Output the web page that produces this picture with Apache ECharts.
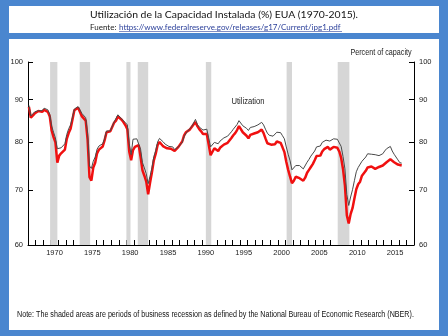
<!DOCTYPE html>
<html><head><meta charset="utf-8">
<script src="https://cdn.jsdelivr.net/npm/echarts@6/dist/echarts.min.js"></script>
<style>html,body{margin:0;padding:0;background:#4a86cf}#c{width:448px;height:336px}</style>
</head><body><div id="c"></div>
<script>
// Quarterly capacity utilization, 1967Q1 onward (percent of capacity)
const startYear = 1967;
const totalIndustry = [
 88.6,86.0,86.2,87.0, 87.1,87.3,87.1,87.3, 87.9,87.8,87.5,86.4, 83.6,82.2,80.9,78.5,
 78.8,78.7,78.6,79.6, 81.7,83.0,83.9,85.7, 87.7,88.1,88.3,88.2, 86.6,86.2,85.6,81.9,
 74.8,74.3,75.8,76.7, 78.4,79.1,79.2,79.6, 80.8,82.5,82.7,82.5, 82.4,84.6,85.0,86.3,
 86.2,85.3,84.9,84.4, 83.9,79.6,77.2,80.6, 80.8,80.7,80.9,78.4, 75.5,74.4,73.2,71.2,
 72.7,74.4,76.8,78.1, 80.0,80.8,80.7,80.0, 79.5,79.3,79.0,79.0, 78.9,78.3,78.5,78.9,
 79.1,79.9,81.2,82.0, 82.5,82.9,83.5,83.9, 85.2,84.0,83.4,83.1, 82.7,82.8,82.9,80.9,
 78.9,78.8,79.9,79.8, 79.6,80.2,80.2,80.9, 81.2,81.3,81.4,82.3, 82.9,83.3,84.0,84.9,
 84.7,83.7,83.6,83.1, 82.6,83.3,83.5,83.5, 83.6,83.9,84.3,84.5, 83.9,82.9,82.0,81.5,
 81.4,81.3,81.6,82.2, 82.0,82.1,81.4,80.7, 78.9,77.3,75.9,74.0, 74.2,74.9,75.2,74.9,
 74.6,74.2,74.6,75.6, 76.2,76.9,77.3,78.0, 78.9,79.3,79.1,79.9, 80.3,80.4,80.6,80.2,
 80.4,80.7,80.6,80.6, 80.2,79.0,76.8,74.2, 69.1,67.0,68.6,70.0, 71.8,73.6,74.5,74.9,
 75.8,75.9,76.7,77.4, 77.6,77.3,77.1,77.2, 77.1,77.0,77.2,77.4, 78.0,78.5,78.6,79.0,
 78.0,77.3,77.1,76.1, 75.5,75.4
];
const manufacturing = [
 88.2,85.6,85.6,86.6, 86.8,87.2,86.8,87.0, 87.5,87.6,87.0,85.9, 82.6,81.1,79.9,75.5,
 77.0,77.5,77.3,78.3, 80.7,82.0,83.0,85.2, 87.4,87.8,88.0,87.7, 85.9,85.6,84.9,80.5,
 72.5,71.8,74.5,75.5, 77.5,78.3,78.5,79.0, 80.4,82.2,82.4,82.4, 82.1,84.4,84.9,85.9,
 85.8,85.1,84.5,83.8, 82.9,77.9,76.0,78.2, 78.9,79.2,79.3,76.7, 73.9,72.8,71.6,69.1,
 71.4,73.5,76.0,77.4, 79.3,80.0,79.8,79.0, 78.6,78.6,78.3,78.5, 78.6,78.0,78.4,78.9,
 79.2,80.1,81.5,82.2, 82.6,82.8,83.4,83.7, 84.6,83.6,82.9,82.4, 81.8,81.9,81.8,79.4,
 77.1,77.3,78.6,78.3, 78.0,78.7,78.6,79.4, 79.7,79.8,79.9,80.9, 81.5,82.0,82.7,83.6,
 83.4,82.2,81.8,81.4, 80.8,81.6,81.8,81.9, 81.9,82.2,82.5,82.8, 82.0,80.8,79.7,79.5,
 79.4,79.3,79.5,80.1, 79.9,79.8,78.8,77.8, 75.7,74.0,72.6,71.3, 71.8,72.6,72.7,72.3,
 72.2,71.8,72.4,73.4, 74.0,74.6,75.2,76.0, 76.9,77.0,77.0,77.9, 78.4,78.5,78.9,78.3,
 78.6,78.9,78.9,78.7, 77.9,76.5,74.1,70.8, 65.2,63.7,65.4,66.5, 68.3,70.1,71.1,71.6,
 72.8,72.9,73.8,74.5, 74.8,74.7,74.3,74.2, 74.6,74.6,74.5,74.9, 75.2,75.6,76.0,76.2,
 75.8,75.6,75.6,75.1, 74.9,74.9
];
// NBER recessions (decimal years)
const recessionStart = [1969.92, 1973.83, 1980.0, 1981.5, 1990.5, 2001.17, 2007.92];
const recessionEnd   = [1970.88, 1975.21, 1980.54, 1982.88, 1991.21, 2001.88, 2009.46];
const yTicks = [60, 70, 80, 90, 100];
const xLabelYears = [1970, 1975, 1980, 1985, 1990, 1995, 2000, 2005, 2010, 2015];
const xMin = 1967, xMax = 2018;

const toPairs = arr => arr.map((v, i) => [startYear + i * 0.25 + 0.125, v]);
const yearTicks = [];
for (let y = xMin; y <= xMax; y++) yearTicks.push(y);

const axFont = '"Liberation Sans", Arial, sans-serif';
const chart = echarts.init(document.getElementById('c'), null, {renderer: 'canvas'});

const yAxisBase = {
  type: 'log', logBase: 10, min: 60, max: 100,
  axisLine: {show: true, lineStyle: {color: '#000', width: 1}},
  axisTick: {show: true, inside: true, length: 5, customValues: yTicks, lineStyle: {color: '#000'}},
  axisLabel: {customValues: yTicks, formatter: v => String(Math.round(v)), color: '#222', fontSize: 7.5, fontFamily: axFont, margin: 5},
  splitLine: {show: false}
};

chart.setOption({
  animation: false,
  backgroundColor: '#4a86cf',
  graphic: [
    {type: 'rect', shape: {x: 9, y: 6, width: 430, height: 27}, style: {fill: '#fff'}},
    {type: 'rect', shape: {x: 9, y: 39, width: 430, height: 291}, style: {fill: '#fff'}, z: -1},
    {type: 'text', x: 224, y: 15, style: {text: 'Utilización de la Capacidad Instalada (%) EUA (1970-2015).', fill: '#111', font: '10.4px Lato, "Open Sans", sans-serif', textAlign: 'center', textVerticalAlign: 'middle'}},
    {type: 'text', x: 90, y: 27.5, style: {text: 'Fuente: ', fill: '#222', font: '8px Lato, "Open Sans", sans-serif', textAlign: 'left', textVerticalAlign: 'middle'}},
    {type: 'text', x: 119, y: 27.5, style: {text: 'https://www.federalreserve.gov/releases/g17/Current/ipg1.pdf', fill: '#2a3f9a', font: '8px Lato, "Open Sans", sans-serif', textAlign: 'left', textVerticalAlign: 'middle'}},
    {type: 'line', shape: {x1: 119, y1: 31.5, x2: 342, y2: 31.5}, style: {stroke: '#2a3f9a', lineWidth: 0.6}},
    {type: 'text', x: 381, y: 53, scaleX: 0.8, style: {text: 'Percent of capacity', fill: '#222', font: '9px ' + axFont, textAlign: 'center', textVerticalAlign: 'middle'}},
    {type: 'text', x: 248, y: 102, scaleX: 0.85, style: {text: 'Utilization', fill: '#222', font: '9px ' + axFont, textAlign: 'center', textVerticalAlign: 'middle'}},
    {type: 'text', x: 17, y: 315, scaleX: 0.84, style: {text: 'Note: The shaded areas are periods of business recession as defined by the National Bureau of Economic Research (NBER).', fill: '#111', font: '8.5px ' + axFont, textAlign: 'left', textVerticalAlign: 'middle'}}
  ],
  grid: {left: 28, right: 34, top: 62, bottom: 91, containLabel: false},
  xAxis: {
    type: 'value', min: xMin, max: xMax,
    axisLine: {show: true, lineStyle: {color: '#000', width: 1}},
    axisTick: {show: true, inside: true, length: 5, customValues: yearTicks, lineStyle: {color: '#000'}},
    axisLabel: {customValues: xLabelYears.map(y => y + 0.5), formatter: v => String(Math.floor(v)), color: '#222', fontSize: 7.5, fontFamily: axFont, margin: 4},
    splitLine: {show: false}
  },
  yAxis: [
    Object.assign({}, yAxisBase, {position: 'left'}),
    Object.assign({}, yAxisBase, {position: 'right'})
  ],
  series: [
    {
      type: 'line', name: 'Manufacturing', data: toPairs(manufacturing), showSymbol: false,
      lineStyle: {color: '#f01010', width: 2.5}, z: 3,
      markArea: {
        silent: true,
        itemStyle: {color: '#d6d6d6'},
        data: recessionStart.map((s, i) => [{xAxis: s, yAxis: 60}, {xAxis: recessionEnd[i], yAxis: 100}])
      }
    },
    {
      type: 'line', name: 'Total industry', data: toPairs(totalIndustry), showSymbol: false,
      lineStyle: {color: '#4a4a4a', width: 1}, z: 4
    }
  ]
});
</script></body></html>
